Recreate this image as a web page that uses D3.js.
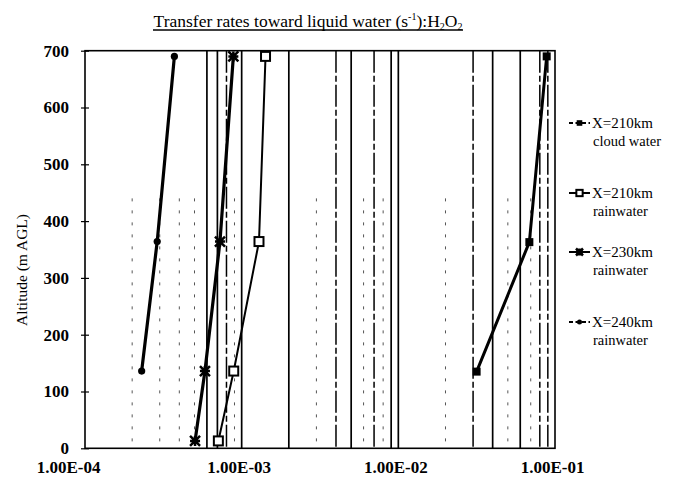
<!DOCTYPE html>
<html><head><meta charset="utf-8">
<script src="https://cdn.jsdelivr.net/npm/d3@7"></script>
<style>
body{margin:0;background:#fff;}
svg{display:block;font-family:"Liberation Serif","Times New Roman",serif;}
</style></head>
<body><svg id="c" width="690" height="483"></svg>
<script>
// ---- data ----
const seriesNames = ["X=210km|cloud water","X=210km|rainwater","X=230km|rainwater","X=240km|rainwater"];
const cloud210Alt = [135, 363, 690];
const cloud210Val = [0.0316, 0.0686, 0.0885];
const rain210Alt  = [13, 136, 364, 690];
const rain210Val  = [7.1e-4, 8.9e-4, 1.29e-3, 1.42e-3];
const rain230Alt  = [13, 136, 364, 690];
const rain230Val  = [5.04e-4, 5.83e-4, 7.27e-4, 8.85e-4];
const rain240Alt  = [136, 364, 690];
const rain240Val  = [2.30e-4, 2.89e-4, 3.72e-4];
const xTickValues = [1e-4, 1e-3, 1e-2, 1e-1];
const xTickLabels = ["1.00E-04","1.00E-03","1.00E-02","1.00E-01"];
const yTickValues = [0,100,200,300,400,500,600,700];

const svg = d3.select("#c");
const L = 85, R = 555, T = 50.7, B = 448.3;
const x = d3.scaleLog().domain([1e-4, 1e-1]).range([L, R]);
const y = d3.scaleLinear().domain([0, 700]).range([B, T]);

// gridlines at every log minor tick (scan shows varied strengths)
const minor = [];
for (let e = -4; e < -1; e++) for (let m = 2; m <= 9; m++) minor.push(+(m * Math.pow(10, e)).toPrecision(3));
const gridMajor = [1e-3, 1e-2];
const solidSet = new Set([6e-4, 7e-4, 2e-3, 5e-3, 9e-3, 4e-2, 6e-2]);
const brokenSet = new Set([8e-4, 4e-3, 7e-3, 3e-2, 8e-2, 9e-2]);
const g = svg.append("g");
gridMajor.concat(minor).forEach(v => {
  const isMajor = gridMajor.includes(v);
  let style = isMajor || solidSet.has(v) ? "solid" : (brokenSet.has(v) ? "broken" : "faint");
  const ln = g.append("line").attr("x1", x(v)).attr("x2", x(v)).attr("stroke", "#000");
  if (style === "solid") ln.attr("y1", T).attr("y2", B).attr("stroke-width", 1.7);
  else if (style === "broken") ln.attr("y1", T).attr("y2", B).attr("stroke-width", 1.5).attr("stroke-dasharray", "22,3,6,3");
  else ln.attr("y1", y(440)).attr("y2", B).attr("stroke-width", 1).attr("stroke-dasharray", "3,9").attr("stroke", "#555");
});

// frame
svg.append("rect").attr("x", L).attr("y", T).attr("width", R - L).attr("height", B - T)
  .attr("fill", "none").attr("stroke", "#000").attr("stroke-width", 1.6);

// y axis
const yAxis = d3.axisLeft(y).tickValues(yTickValues).tickSize(0).tickPadding(16).tickFormat(d3.format("d"));
const ya = svg.append("g").attr("transform", `translate(${L},0)`).call(yAxis);
ya.select(".domain").remove();
ya.selectAll("text").attr("font-family", "Liberation Serif").attr("font-size", 17).attr("font-weight", "bold").attr("fill", "#000");
ya.selectAll(".tick").append("line").attr("x1", -4).attr("x2", 4).attr("stroke", "#000").attr("stroke-width", 1.2);

// x axis
const xAxis = d3.axisBottom(x).tickValues(xTickValues).tickSize(0).tickPadding(13)
  .tickFormat((d, i) => xTickLabels[i]);
const xa = svg.append("g").attr("transform", `translate(0,${B})`).call(xAxis);
xa.select(".domain").remove();
xa.selectAll("text").attr("font-family", "Liberation Serif").attr("font-size", 17).attr("font-weight", "bold").attr("fill", "#000")
  .attr("dx", (d, i) => i === 0 ? -17 : -3);

// axis title
svg.append("text").attr("transform", "translate(27,270) rotate(-90)").attr("text-anchor", "middle")
  .attr("font-size", 15.5).text("Altitude  (m AGL)");

// title
const tt = svg.append("text").attr("x", 308).attr("y", 27).attr("text-anchor", "middle").attr("font-size", 17.5);
tt.append("tspan").text("Transfer rates toward liquid water (s");
tt.append("tspan").attr("font-size", 10).attr("dy", -7).text("-1");
tt.append("tspan").attr("dy", 7).text("):H");
tt.append("tspan").attr("font-size", 10).attr("dy", 3).text("2");
tt.append("tspan").attr("dy", -3).text("O");
tt.append("tspan").attr("font-size", 10).attr("dy", 3).text("2");
svg.append("line").attr("x1", 153).attr("x2", 463).attr("y1", 30).attr("y2", 30).attr("stroke", "#000").attr("stroke-width", 1.3);

// series
const starPath = s => `M${-s},${-s}L${s},${s}M${-s},${s}L${s},${-s}M0,${-s}L0,${s}M${-s},0L${s},0`;
const series = [
  {alt: cloud210Alt, val: cloud210Val, w: 3, marker: "fsq"},
  {alt: rain210Alt, val: rain210Val, w: 2, marker: "osq"},
  {alt: rain230Alt, val: rain230Val, w: 3.2, marker: "star"},
  {alt: rain240Alt, val: rain240Val, w: 3.2, marker: "dot"}
];
const line = d3.line().x(d => x(d[1])).y(d => y(d[0]));
function drawMarker(sel, type, cx, cy, small) {
  const k = small ? 0.7 : 1;
  if (type === "fsq") sel.append("rect").attr("x", cx - 4 * k).attr("y", cy - 4 * k).attr("width", 8 * k).attr("height", 8 * k).attr("fill", "#000");
  else if (type === "osq") sel.append("rect").attr("x", cx - 4.5 * k).attr("y", cy - 4.5 * k).attr("width", 9 * k).attr("height", 9 * k).attr("fill", "#fff").attr("stroke", "#000").attr("stroke-width", 2);
  else if (type === "star") sel.append("path").attr("transform", `translate(${cx},${cy})`).attr("d", starPath(5 * k)).attr("stroke", "#000").attr("stroke-width", 2.5).attr("fill", "none");
  else sel.append("circle").attr("cx", cx).attr("cy", cy).attr("r", 3.6 * k).attr("fill", "#000");
}
series.forEach(s => {
  const pts = s.alt.map((a, i) => [a, s.val[i]]);
  svg.append("path").datum(pts).attr("d", line).attr("fill", "none").attr("stroke", "#000").attr("stroke-width", s.w).attr("stroke-linejoin", "round");
  pts.forEach(p => drawMarker(svg, s.marker, x(p[1]), y(p[0]), false));
});

// legend
const legY = [123, 193, 252, 322];
series.forEach((s, i) => {
  const gy = legY[i];
  const lg = svg.append("line").attr("x1", 569).attr("x2", 590).attr("y1", gy).attr("y2", gy).attr("stroke", "#000").attr("stroke-width", 2);
  if (s.marker === "fsq" || s.marker === "dot") lg.attr("stroke-dasharray", "4,2.5");
  drawMarker(svg, s.marker, 579.5, gy, true);
  const parts = seriesNames[i].split("|");
  const t = svg.append("text").attr("x", 592).attr("y", gy + 5).attr("font-size", 15);
  t.append("tspan").text(parts[0]);
  t.append("tspan").attr("x", 593).attr("dy", 17.5).attr("font-size", 14.5).text(parts[1]);
});
</script></body></html>
